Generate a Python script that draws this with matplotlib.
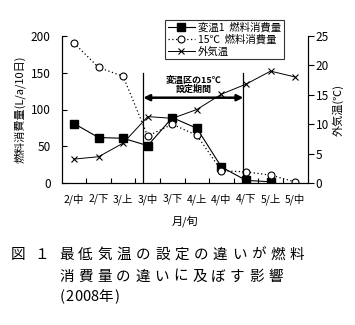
import numpy as np
import matplotlib
matplotlib.use("Agg")
import matplotlib.pyplot as plt

plt.rcParams['font.family'] = ['Noto Sans CJK JP', 'DejaVu Sans']

# --- data ---
periods = ['2/中', '2/下', '3/上', '3/中', '3/下', '4/上', '4/中', '4/下', '5/上', '5/中']
fuel_hen1 = [81, 62, 61, 51, 89, 74.5, 22, 4, 2, np.nan]   # 変温1 燃料消費量
fuel_15c = [190, 157, 145, 64, 80, 65, 17, 15.5, 11, 2]    # 15℃ 燃料消費量
outside_temp = [4.1, 4.5, 6.8, 11.3, 11.0, 12.5, 15.1, 16.8, 19.0, 18.0]  # 外気温

left_ticks = [0, 50, 100, 150, 200]
right_ticks = [0, 5, 10, 15, 20, 25]

W, H = 355, 325
fig = plt.figure(figsize=(W / 100, H / 100), dpi=100)
ax = fig.add_axes([61.7 / W, 1 - 183.3 / H, (307.5 - 61.7) / W, (183.3 - 35.7) / H])
ax2 = ax.twinx()

x = np.arange(len(periods))

l1, = ax.plot(x, fuel_hen1, '-', color='black', lw=0.8, marker='s',
              markersize=5.5, markerfacecolor='black', label='変温1  燃料消費量')
l2, = ax.plot(x, fuel_15c, linestyle=(0, (1, 2)), color='black', lw=0.9,
              marker='o', markersize=5, markerfacecolor='white',
              markeredgewidth=0.8, label='15℃  燃料消費量')
l3, = ax2.plot(x, outside_temp, '-', color='black', lw=0.7, marker='x',
               markersize=5, markeredgewidth=0.8, label='外気温')

ax.set_xlim(-0.5, len(periods) - 0.5)
ax.set_ylim(0, 200)
ax2.set_ylim(0, 25)

# category labels at centres, tick marks at boundaries
ax.set_xticks(x)
ax.set_xticklabels(periods, fontsize=7.5)
ax.tick_params(axis='x', which='major', length=0, pad=7)
ax.set_xticks(np.arange(0.5, len(periods) - 0.5, 1), minor=True)
ax.tick_params(axis='x', which='minor', direction='in', length=3.5, width=0.8)

ax.set_yticks(left_ticks)
ax.tick_params(axis='y', direction='in', length=3.5, width=0.8, labelsize=8.5, pad=8)
ax2.set_yticks(right_ticks)
ax2.tick_params(axis='y', direction='out', length=4, width=0.8, labelsize=8.5, pad=2)

for a in (ax, ax2):
    a.spines['top'].set_visible(False)
    for s in a.spines.values():
        s.set_linewidth(0.8)

ax.set_ylabel('燃料消費量(L/a/10日)', fontsize=8, labelpad=4)
ax2.set_ylabel('外気温(℃)', fontsize=8, labelpad=2)
ax.set_xlabel('月/旬', fontsize=8, labelpad=8)

# 15℃ setting period for the 変温 plot
x_start, x_end = 2.82, 6.89
for xv in (x_start, x_end):
    ax.plot([xv, xv], [0, 149.5], color='black', lw=0.9)
ax.annotate('', xy=(x_end, 116), xytext=(x_start, 116),
            arrowprops=dict(arrowstyle='<|-|>', color='black', lw=1.8,
                            mutation_scale=9, shrinkA=0, shrinkB=0))
xm = (x_start + x_end) / 2
ax.text(xm, 140, '変温区の15℃', ha='center', va='center', fontsize=6.5, fontweight='bold')
ax.text(xm, 128, '設定期間', ha='center', va='center', fontsize=6.5, fontweight='bold')

leg = fig.legend(handles=[l1, l2, l3], loc='upper left',
                 bbox_to_anchor=(165 / W, 1 - 20 / H), fontsize=7.5,
                 frameon=True, fancybox=False, edgecolor='black',
                 borderpad=0.25, labelspacing=0.15, handlelength=2.6,
                 handletextpad=0.3, borderaxespad=0)
leg.get_frame().set_linewidth(0.8)


# caption, laid out with the wide character pitch of the original
def caption_line(x0, y_px, text, full=19.2, half=8.8):
    xp = x0
    for ch in text:
        fig.text(xp / W, 1 - y_px / H, ch, ha='left', va='center', fontsize=10.5)
        if ch in '()':
            xp += 5.5
        else:
            xp += half if ord(ch) < 128 else full


caption_line(11, 255, '図')
caption_line(34, 255, '１')
caption_line(59, 255, '最低気温の設定の違いが燃料')
caption_line(59, 276.7, '消費量の違いに及ぼす影響', full=19.0)
caption_line(60, 296.7, '(2008年)', full=16, half=8.3)

fig.savefig('out.png', dpi=100)
